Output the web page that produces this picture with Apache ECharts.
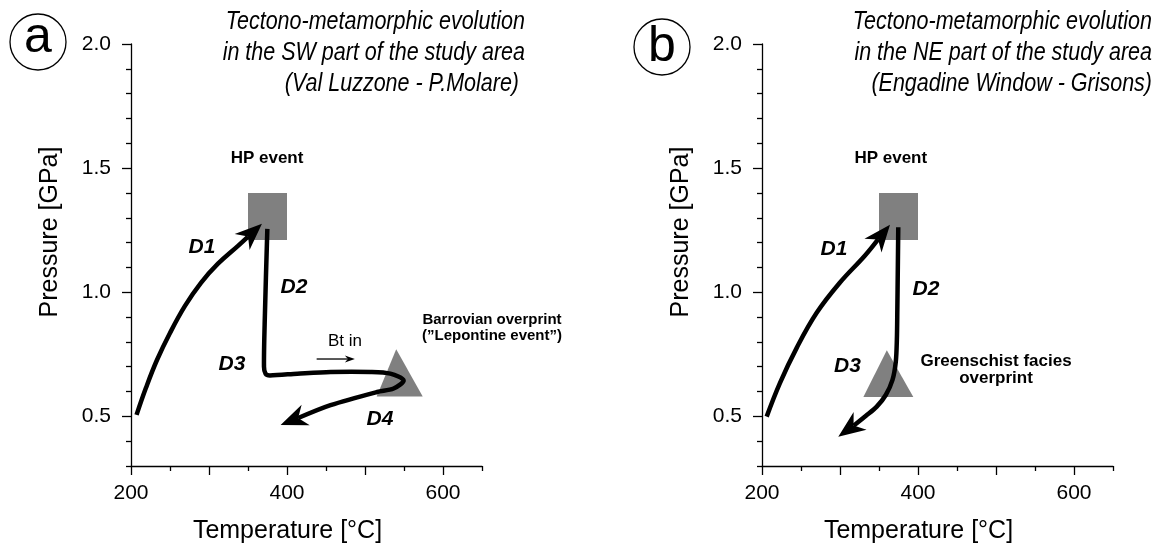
<!DOCTYPE html>
<html><head><meta charset="utf-8">
<script src="https://cdn.jsdelivr.net/npm/echarts@6/dist/echarts.min.js"></script>
<style>html,body{margin:0;padding:0;background:#fff}#c{width:1164px;height:548px}</style>
</head><body><div id="c"></div>
<script>
// ---------- axis ticks ----------
const xTickMajor = [200, 300, 400, 500, 600];
const xTickMinor = [250, 350, 450, 550, 650];
const xTickLabels = [200, 400, 600];
const yTickMajor = [0.5, 1.0, 1.5, 2.0];
const yTickMinor = [0.3, 0.4, 0.6, 0.7, 0.8, 0.9, 1.1, 1.2, 1.3, 1.4, 1.6, 1.7, 1.8, 1.9];
const yTickLabels = [0.5, 1.0, 1.5, 2.0];

// ---------- panel a (SW) ----------
const hpBoxA = [[350, 1.21, 400, 1.40]];           // [Tmin, Pmin, Tmax, Pmax]
const overprintTriA = [[515, 0.58], [574, 0.58], [540, 0.77]];
const pathD1A = [[207.1, 0.506], [219.2, 0.615], [233.3, 0.727], [250, 0.836], [269.2, 0.945], [289.7, 1.038], [311.5, 1.115], [337.2, 1.187], [367.9, 1.276]];
const pathD2D4A = [[374.8, 1.255], [371.7, 0.913], [370.5, 0.70], [372.5, 0.672], [378, 0.665], [413.2, 0.672], [455.8, 0.679], [506.9, 0.679], [532.5, 0.672], [549.5, 0.645], [536.7, 0.612], [515.5, 0.598], [455.8, 0.545], [391.8, 0.465]];
const btArrowA = [[438, 0.731], [487, 0.731]];
const notesA = ['HP event', 'D1', 'D2', 'D3', 'D4', 'Bt in', 'Barrovian overprint\n(\u201DLepontine event\u201D)'];
const notesPosA = [[374.4, 1.538], [291, 1.183], [409, 1.022], [329.5, 0.711], [519.2, 0.49], [474.4, 0.804], [662.8, 0.856]];
const titleA = ['Tectono-metamorphic evolution', 'in the SW part of the study area', '(Val Luzzone - P.Molare) '];

// ---------- panel b (NE) ----------
const hpBoxB = [[350, 1.21, 400, 1.40]];
const overprintTriB = [[330, 0.578], [394, 0.578], [360, 0.766]];
const pathD1B = [[206, 0.499], [223.1, 0.635], [244.5, 0.776], [270.1, 0.917], [299.7, 1.038], [331.8, 1.147], [364.1, 1.272]];
const pathD2D3B = [[374.7, 1.262], [374.1, 1.090], [373.5, 0.929], [372.9, 0.808], [371.5, 0.719], [367.3, 0.647], [358.7, 0.586], [347.1, 0.539], [333.3, 0.502], [321.4, 0.472], [297.8, 0.418]];
const notesB = ['HP event', 'D1', 'D2', 'D3', 'Greenschist facies\noverprint'];
const notesPosB = [[365.1, 1.538], [292.3, 1.175], [410.3, 1.014], [309.6, 0.703], [500, 0.687]];
const titleB = ['Tectono-metamorphic evolution', 'in the NE part of the study area', '(Engadine Window - Grisons)'];

// ---------- styles ----------
const FF = '"Liberation Sans", Arial, Helvetica, sans-serif';
const GRAY = '#808080';
const noteStyles = {
  'HP event': {fontSize: 17, fontWeight: 'bold'},
  'Bt in': {fontSize: 17, fontWeight: 'normal'},
  'D': {fontSize: 21, fontWeight: 'bold', fontStyle: 'italic'},
  'Barrovian': {fontSize: 15, fontWeight: 'bold', lineHeight: 16},
  'Greenschist': {fontSize: 17, fontWeight: 'bold', lineHeight: 17}
};

const chart = echarts.init(document.getElementById('c'), null, {renderer: 'canvas'});

function mainX(gi) {
  return {
    type: 'value', gridIndex: gi, position: 'bottom', min: 200, max: 650,
    axisLine: {show: true, onZero: false, lineStyle: {color: '#000', width: 1.3}},
    axisTick: {show: true, customValues: xTickMajor, length: 9, lineStyle: {color: '#000', width: 1.3}},
    axisLabel: {show: true, customValues: xTickLabels, margin: 17, color: '#000', fontSize: 21, fontFamily: FF},
    splitLine: {show: false},
    name: 'Temperature [°C]', nameLocation: 'middle', nameGap: 53,
    nameTextStyle: {fontSize: 25, color: '#000', fontFamily: FF, padding: [0, 38, 0, 0]}
  };
}
function minorX(gi) {
  return {
    type: 'value', gridIndex: gi, position: 'bottom', min: 200, max: 650,
    axisLine: {show: false, onZero: false},
    axisTick: {show: true, customValues: xTickMinor, length: 5, lineStyle: {color: '#000', width: 1.3}},
    axisLabel: {show: false}, splitLine: {show: false}
  };
}
function mainY(gi) {
  return {
    type: 'value', gridIndex: gi, position: 'left', min: 0.3, max: 2.0,
    axisLine: {show: true, onZero: false, lineStyle: {color: '#000', width: 1.3}},
    axisTick: {show: true, customValues: yTickMajor, length: 9, lineStyle: {color: '#000', width: 1.3}},
    axisLabel: {show: true, customValues: yTickLabels, margin: 20, color: '#000', fontSize: 21, fontFamily: FF,
      formatter: v => Number(v).toFixed(1)},
    splitLine: {show: false},
    name: 'Pressure [GPa]', nameLocation: 'middle', nameGap: 68,
    nameTextStyle: {fontSize: 25, color: '#000', fontFamily: FF, padding: [0, 0, 0, 46]}
  };
}
function minorY(gi) {
  return {
    type: 'value', gridIndex: gi, position: 'left', min: 0.3, max: 2.0,
    axisLine: {show: false, onZero: false},
    axisTick: {show: true, customValues: yTickMinor, length: 5, lineStyle: {color: '#000', width: 1.3}},
    axisLabel: {show: false}, splitLine: {show: false}
  };
}

function rectSeries(data, ax) {
  return {
    type: 'custom', xAxisIndex: ax, yAxisIndex: ax, data: data, silent: true, z: 1,
    renderItem: function (params, api) {
      const p1 = api.coord([api.value(0), api.value(3)]);
      const p2 = api.coord([api.value(2), api.value(1)]);
      return {type: 'rect', shape: {x: p1[0], y: p1[1], width: p2[0] - p1[0], height: p2[1] - p1[1]}, style: {fill: GRAY}};
    }
  };
}
function polySeries(points, ax) {
  return {
    type: 'custom', xAxisIndex: ax, yAxisIndex: ax, data: points, silent: true, z: 1,
    renderItem: function (params, api) {
      if (params.dataIndex !== 0) return;
      const pts = points.map(p => api.coord(p));
      return {type: 'polygon', shape: {points: pts}, style: {fill: GRAY}};
    }
  };
}
function arrowSeries(points, ax, lw, L, W, smooth) {
  return {
    type: 'custom', xAxisIndex: ax, yAxisIndex: ax, data: points, silent: true, z: 3,
    renderItem: function (params, api) {
      if (params.dataIndex !== 0) return;
      const pts = points.map(p => api.coord(p));
      const n = pts.length;
      const tip = pts[n - 1], prev = pts[n - 2];
      let dx = tip[0] - prev[0], dy = tip[1] - prev[1];
      const len = Math.hypot(dx, dy); dx /= len; dy /= len;
      const base = [tip[0] - dx * L, tip[1] - dy * L];
      const notch = [tip[0] - dx * L * 0.7, tip[1] - dy * L * 0.7];
      const nx = -dy, ny = dx;
      const b1 = [base[0] + nx * W, base[1] + ny * W];
      const b2 = [base[0] - nx * W, base[1] - ny * W];
      const linePts = pts.slice(0, n - 1).concat([notch]);
      return {type: 'group', children: [
        {type: 'polyline', shape: {points: linePts, smooth: smooth}, style: {stroke: '#000', lineWidth: lw, fill: null, lineJoin: 'round'}},
        {type: 'polygon', shape: {points: [tip, b1, notch, b2]}, style: {fill: '#000'}}
      ]};
    }
  };
}
function styleKey(t) {
  if (noteStyles[t]) return t;
  if (/^D\d$/.test(t)) return 'D';
  return t.split(' ')[0];
}
function noteSeries(texts, pos, ax) {
  return {
    type: 'scatter', xAxisIndex: ax, yAxisIndex: ax, clip: false, silent: true, z: 5,
    symbol: 'circle', symbolSize: 0, itemStyle: {color: '#000', opacity: 1},
    data: texts.map((t, i) => ({
      value: pos[i],
      label: Object.assign({show: true, position: 'inside', formatter: t, color: '#000', opacity: 1,
        textBorderWidth: 0, fontFamily: FF, align: 'center', verticalAlign: 'middle'}, noteStyles[styleKey(t)])
    }))
  };
}
function titleText(lines, right) {
  return {type: 'text', x: right, y: 7, scaleX: 0.86, scaleY: 1,
    style: {text: lines.join('\n'), fontSize: 25, fontStyle: 'italic', fontFamily: FF, lineHeight: 31,
      align: 'right', verticalAlign: 'top', fill: '#000'}};
}

const option = {
  animation: false,
  backgroundColor: '#fff',
  grid: [
    {left: 131, top: 44, width: 351, height: 422, outerBoundsMode: 'none', containLabel: false},
    {left: 762, top: 44, width: 351, height: 422, outerBoundsMode: 'none', containLabel: false}
  ],
  xAxis: [mainX(0), minorX(0), mainX(1), minorX(1)],
  yAxis: [mainY(0), minorY(0), mainY(1), minorY(1)],
  series: [
    rectSeries(hpBoxA, 0),
    polySeries(overprintTriA, 0),
    arrowSeries(pathD1A, 0, 4.5, 27, 11, 0.4),
    arrowSeries(pathD2D4A, 0, 4.5, 27, 11, 0.3),
    arrowSeries(btArrowA, 0, 1.3, 10, 3.5, 0),
    noteSeries(notesA, notesPosA, 0),
    rectSeries(hpBoxB, 2),
    polySeries(overprintTriB, 2),
    arrowSeries(pathD1B, 2, 4.5, 27, 11, 0.4),
    arrowSeries(pathD2D3B, 2, 4.5, 27, 11, 0.3),
    noteSeries(notesB, notesPosB, 2)
  ],
  graphic: [
    {type: 'circle', shape: {cx: 38, cy: 42, r: 28}, style: {fill: 'none', stroke: '#000', lineWidth: 1.3}},
    {type: 'text', x: 38, y: 38.5, style: {text: 'a', fontSize: 50, fontFamily: FF, align: 'center', verticalAlign: 'middle', fill: '#000'}},
    {type: 'circle', shape: {cx: 662, cy: 47, r: 28}, style: {fill: 'none', stroke: '#000', lineWidth: 1.3}},
    {type: 'text', x: 662, y: 47, style: {text: 'b', fontSize: 50, fontFamily: FF, align: 'center', verticalAlign: 'middle', fill: '#000'}},
    titleText(titleA, 525),
    titleText(titleB, 1152)
  ]
};
chart.setOption(option);
</script>
</body></html>
